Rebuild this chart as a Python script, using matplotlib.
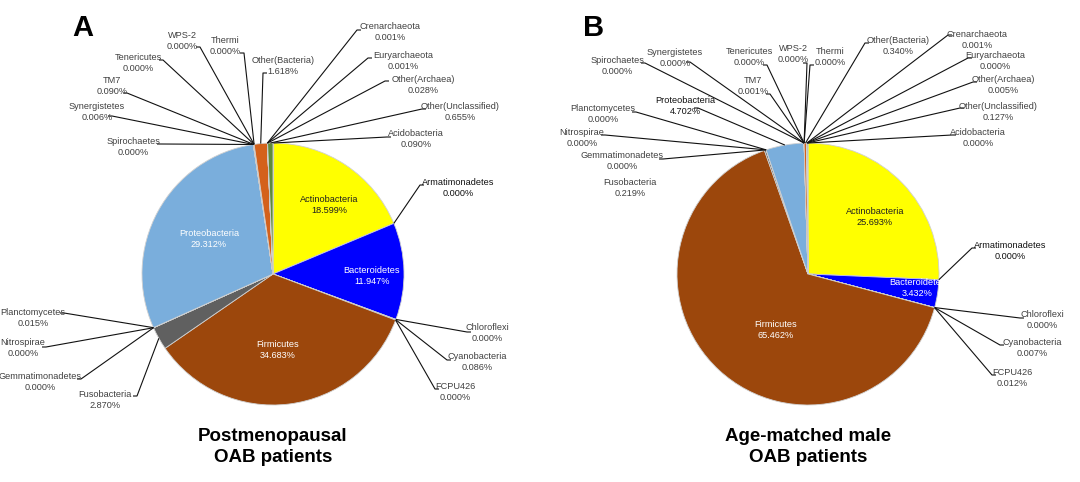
import matplotlib
matplotlib.use("Agg")
import matplotlib.pyplot as plt
import numpy as np

plt.rcParams['font.family'] = ['Liberation Sans', 'DejaVu Sans']

# ---------------- data ----------------
categories = ["Acidobacteria", "Actinobacteria", "Armatimonadetes", "Bacteroidetes",
              "Chloroflexi", "Cyanobacteria", "FCPU426", "Firmicutes", "Fusobacteria",
              "Gemmatimonadetes", "Nitrospirae", "Planctomycetes", "Proteobacteria",
              "Spirochaetes", "Synergistetes", "TM7", "Tenericutes", "WPS-2", "Thermi",
              "Other(Bacteria)", "Crenarchaeota", "Euryarchaeota", "Other(Archaea)",
              "Other(Unclassified)"]

values_A = [0.090, 18.599, 0.000, 11.947, 0.000, 0.086, 0.000, 34.683, 2.870,
            0.000, 0.000, 0.015, 29.312, 0.000, 0.006, 0.090, 0.000, 0.000, 0.000,
            1.618, 0.001, 0.001, 0.028, 0.655]

values_B = [0.000, 25.693, 0.000, 3.432, 0.000, 0.007, 0.012, 65.462, 0.219,
            0.000, 0.000, 0.000, 4.702, 0.000, 0.000, 0.001, 0.000, 0.000, 0.000,
            0.340, 0.001, 0.000, 0.005, 0.127]

titles = ["Postmenopausal\nOAB patients", "Age-matched male\nOAB patients"]
panel_letters = ["A", "B"]

colors = {
    "Acidobacteria": "#4a7fbf", "Actinobacteria": "#ffff00", "Armatimonadetes": "#888888",
    "Bacteroidetes": "#0000ff", "Chloroflexi": "#888888", "Cyanobacteria": "#3b6aa0",
    "FCPU426": "#6d8f3c", "Firmicutes": "#9c470c", "Fusobacteria": "#606060",
    "Gemmatimonadetes": "#888888", "Nitrospirae": "#888888", "Planctomycetes": "#b08b2a",
    "Proteobacteria": "#7aaedc", "Spirochaetes": "#888888", "Synergistetes": "#444444",
    "TM7": "#c05a1a", "Tenericutes": "#888888", "WPS-2": "#888888", "Thermi": "#888888",
    "Other(Bacteria)": "#d4611b", "Crenarchaeota": "#555555", "Euryarchaeota": "#555555",
    "Other(Archaea)": "#8a6a2a", "Other(Unclassified)": "#5f8a3a",
}

# ---------------- layout (pixel positions) ----------------
W, H = 1080, 482
centers = [(273, 274), (808, 274)]
radius = 131

# label name -> (text x, text y, leader end x, leader end y)
layout_A = {
    "WPS-2": (182, 41, 200, 47), "Thermi": (225, 46, 244, 53),
    "Tenericutes": (138, 63, 163, 60), "TM7": (112, 86, 127, 93),
    "Synergistetes": (97, 112, 112, 116), "Spirochaetes": (133, 147, 161, 144),
    "Other(Bacteria)": (283, 66, 263, 73), "Crenarchaeota": (390, 32, 357, 30),
    "Euryarchaeota": (403, 61, 368, 58), "Other(Archaea)": (423, 85, 385, 81),
    "Other(Unclassified)": (460, 112, 422, 109), "Acidobacteria": (416, 139, 387, 137),
    "Armatimonadetes": (458, 188, 420, 185), "Chloroflexi": (487, 333, 467, 332),
    "Cyanobacteria": (477, 362, 447, 360), "FCPU426": (455, 392, 435, 389),
    "Planctomycetes": (33, 318, 64, 313), "Nitrospirae": (23, 348, 46, 347),
    "Gemmatimonadetes": (40, 382, 81, 379), "Fusobacteria": (105, 400, 137, 396),
}
layout_B = {
    "Spirochaetes": (617, 66, 645, 63), "Synergistetes": (675, 58, 690, 62),
    "Tenericutes": (749, 57, 767, 65), "WPS-2": (793, 54, 807, 63),
    "Thermi": (830, 57, 810, 65), "TM7": (753, 86, 770, 94),
    "Proteobacteria": (685, 106, 698, 108), "Planctomycetes": (603, 114, 636, 112),
    "Nitrospirae": (582, 138, 605, 135), "Gemmatimonadetes": (622, 161, 663, 159),
    "Fusobacteria": (630, 188, None, None),
    "Other(Bacteria)": (898, 46, 865, 43), "Crenarchaeota": (977, 40, 948, 35),
    "Euryarchaeota": (995, 61, 968, 58), "Other(Archaea)": (1003, 85, 973, 82),
    "Other(Unclassified)": (998, 112, 960, 108), "Acidobacteria": (978, 138, 952, 135),
    "Armatimonadetes": (1010, 251, 972, 248), "Chloroflexi": (1042, 320, 1020, 318),
    "Cyanobacteria": (1032, 348, 1000, 345), "FCPU426": (1012, 378, 992, 375),
}
# inside labels: name -> (x, y, color)
inside_A = {"Actinobacteria": (329, 205, "#202020"), "Bacteroidetes": (372, 276, "white"),
            "Firmicutes": (278, 350, "white"), "Proteobacteria": (209, 239, "white")}
inside_B = {"Actinobacteria": (875, 217, "#202020"), "Bacteroidetes": (917, 288, "white"),
            "Firmicutes": (776, 330, "white")}
dark_labels_B = {"Proteobacteria", "Armatimonadetes"}
dark_labels_A = {"Armatimonadetes"}

fig = plt.figure(figsize=(W / 100, H / 100), dpi=100)
ax = fig.add_axes([0, 0, 1, 1])
ax.set_xlim(0, W)
ax.set_ylim(0, H)
ax.set_aspect('equal')
ax.axis('off')


def P(x, y):
    return x, H - y


label_fs = 6.6
label_col = "#404040"

for k, (vals, layout, inside, darks) in enumerate(
        [(values_A, layout_A, inside_A, dark_labels_A),
         (values_B, layout_B, inside_B, dark_labels_B)]):
    cx, cy = P(*centers[k])
    wedges, _ = ax.pie(vals, colors=[colors[c] for c in categories], startangle=90,
                       counterclock=False, center=(cx, cy), radius=radius,
                       wedgeprops=dict(linewidth=0.6, edgecolor="#d0d0d0"),
                       normalize=True)
    ax.set_xlim(0, W)
    ax.set_ylim(0, H)
    total = sum(vals)
    cum = np.cumsum([0] + list(vals))
    for i, name in enumerate(categories):
        pct = vals[i]
        mid = (cum[i] + pct / 2) / total * 360.0
        theta = np.deg2rad(90 - mid)
        ex, ey = cx + radius * np.cos(theta), cy + radius * np.sin(theta)
        txt = f"{name}\n{pct:.3f}%"
        if name in inside:
            x, y, col = inside[name]
            t = ax.text(*P(x, y), txt, ha="center", va="center", fontsize=label_fs,
                        color=col, linespacing=1.15, zorder=5)
            t.set_clip_path(wedges[i])
            continue
        if name not in layout:
            continue
        tx, ty, lx, ly = layout[name]
        col = "#111111" if name in darks else label_col
        ax.text(*P(tx, ty), txt, ha="center", va="center", fontsize=label_fs,
                color=col, linespacing=1.15, zorder=5)
        if lx is not None:
            ax_, ay_ = P(lx, ly)
            tail = 4 if tx > lx else -4
            ax.plot([ex, ax_, ax_ + tail], [ey, ay_, ay_], color="#111111",
                    lw=0.8, zorder=4, solid_capstyle="butt")

    ax.text(*P(centers[k][0], 447), titles[k], ha="center", va="center",
            fontsize=13.5, fontweight="bold", color="black", linespacing=1.35)

ax.text(*P(83, 28), panel_letters[0], ha="center", va="center", fontsize=21,
        fontweight="bold", color="black")
ax.text(*P(594, 28), panel_letters[1], ha="center", va="center", fontsize=21,
        fontweight="bold", color="black")

fig.savefig("out.png", dpi=100, facecolor="white")
